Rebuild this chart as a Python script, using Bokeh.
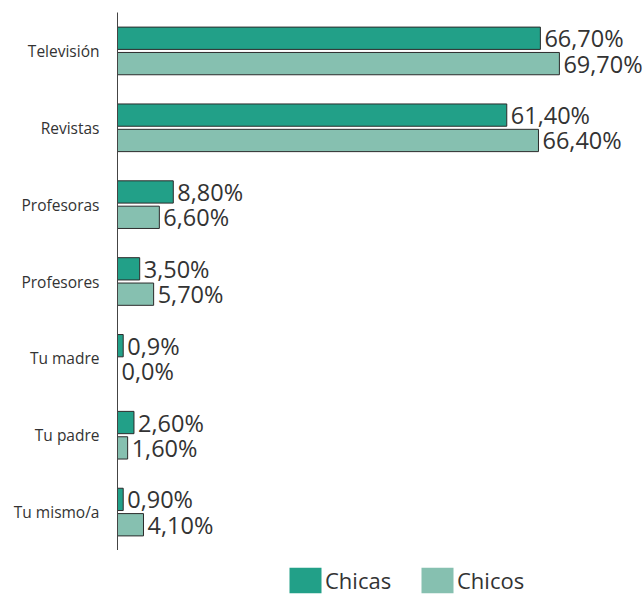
from bokeh.plotting import figure
from bokeh.layouts import column
from bokeh.models import ColumnDataSource, Legend, LegendItem, FactorRange, Range1d
from bokeh.transform import dodge
from bokeh.embed import file_html
from bokeh.resources import INLINE
from bokeh.core.properties import value

categories = ["Televisión", "Revistas", "Profesoras", "Profesores", "Tu madre", "Tu padre", "Tu mismo/a"]
chicas = [66.7, 61.4, 8.8, 3.5, 0.9, 2.6, 0.9]
chicos = [69.7, 66.4, 6.6, 5.7, 0.0, 1.6, 4.1]
chicas_labels = ["66,70%", "61,40%", "8,80%", "3,50%", "0,9%", "2,60%", "0,90%"]
chicos_labels = ["69,70%", "66,40%", "6,60%", "5,70%", "0,0%", "1,60%", "4,10%"]
series_names = ["Chicas", "Chicos"]

C_CHICAS = "#22a088"
C_CHICOS = "#86c0b0"
TXT = "#333333"
FONT = "Open Sans"

src = ColumnDataSource(dict(cat=categories, chicas=chicas, chicos=chicos,
                            chicas_lbl=chicas_labels, chicos_lbl=chicos_labels))

p = figure(width=644, height=550, output_backend="svg", toolbar_location=None,
           y_range=FactorRange(factors=list(reversed(categories))),
           x_range=Range1d(0, 527 / 6.34), x_axis_location=None,
           min_border_left=117, min_border_right=0, min_border_top=12, min_border_bottom=0)
p.outline_line_color = None
p.xgrid.visible = False
p.ygrid.visible = False

OFF = 0.165
H = 0.29
y1 = dodge("cat", OFF, range=p.y_range)
y2 = dodge("cat", -OFF, range=p.y_range)

p.hbar(y=y1, left=0, right="chicas", height=H, source=src, fill_color=C_CHICAS, line_color="#2b2b2b", line_width=1)
p.hbar(y=y2, left=0, right="chicos", height=H, source=src, fill_color=C_CHICOS, line_color="#2b2b2b", line_width=1)

for yy, col in [(y1, "chicas"), (y2, "chicos")]:
    p.text(x=col, y=yy, text=col + "_lbl", source=src, x_offset=4, text_baseline="middle",
           text_align="left", text_font=value(FONT), text_font_size="23.5px", text_color=TXT)

ax = p.yaxis[0]
ax.major_tick_line_color = None
ax.minor_tick_line_color = None
ax.major_label_standoff = 12
ax.axis_line_color = "#444444"
ax.major_label_text_font = FONT
ax.major_label_text_font_size = "15.5px"
ax.major_label_text_color = TXT

# legend strip below the chart
p2 = figure(width=644, height=46, output_backend="svg", toolbar_location=None,
            y_range=FactorRange(factors=list(reversed(categories))),
            x_range=Range1d(-2, -1), x_axis_location=None, y_axis_location=None,
            min_border_left=0, min_border_right=0, min_border_top=0, min_border_bottom=0)
p2.outline_line_color = None
p2.xgrid.visible = False
p2.ygrid.visible = False
r1 = p2.hbar(y="cat", left=0, right="chicas", height=H, source=src, fill_color=C_CHICAS, line_color=None)
r2 = p2.hbar(y="cat", left=0, right="chicos", height=H, source=src, fill_color=C_CHICOS, line_color=None)

legend = Legend(items=[LegendItem(label=series_names[0], renderers=[r1]),
                       LegendItem(label=series_names[1], renderers=[r2])],
                location=(168, 0), orientation="horizontal",
                glyph_width=40, glyph_height=32, label_height=32, label_width=70,
                spacing=22, padding=0, margin=0, label_standoff=-2,
                label_text_font=FONT, label_text_font_size="22px", label_text_color=TXT,
                border_line_color=None, background_fill_alpha=0)
p2.add_layout(legend)

open("out.html", "w").write(file_html(column(p, p2, spacing=0), INLINE))
